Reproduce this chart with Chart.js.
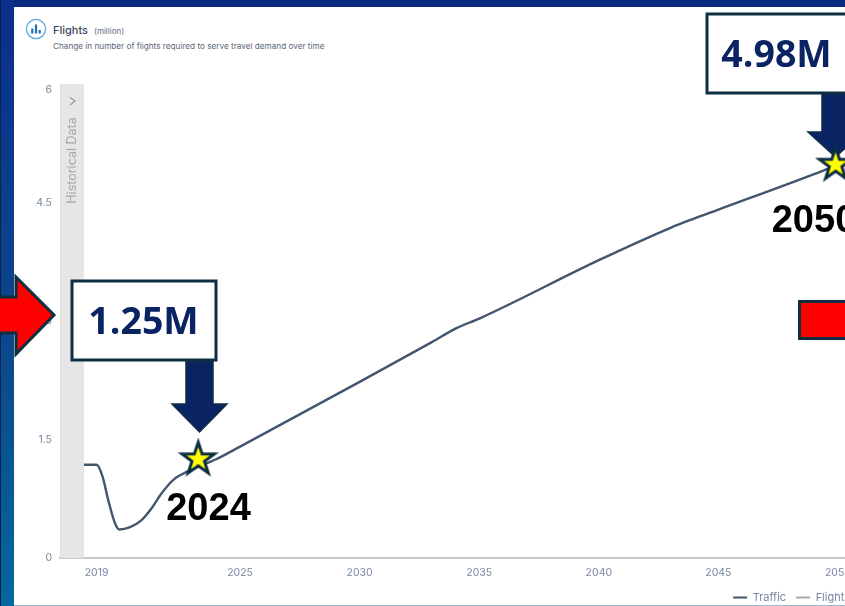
<!DOCTYPE html>
<html>
<head>
<meta charset="utf-8">
<title>Flights</title>
<script src="https://cdn.jsdelivr.net/npm/chart.js@4"></script>
<style>
    html, body { margin: 0; width: 845px; height: 606px; overflow: hidden; background: #fff; }
    .frame-top { position: absolute; left: 0; top: 0; width: 845px; height: 7px; background: #0a2a82; }
    .frame-left { position: absolute; left: 0; top: 0; width: 14px; height: 606px;
        background: linear-gradient(#0b2f8a, #0b4a8c 60%, #03679f); border-left: 1px solid #06234f; box-sizing: border-box; }
    .frame-bottom { position: absolute; left: 14px; top: 605px; width: 831px; height: 1px; background: #9dbbd0; }
    canvas { position: absolute; left: 0; top: 0; }
    .icon { position: absolute; left: 25px; top: 18px; }
    .title { position: absolute; left: 53px; top: 23px; font: 500 11px Inter, sans-serif; color: #3d4a5c; }
    .title small { font-size: 8px; font-weight: 400; color: #5f6d80; margin-left: 3px; }
    .subtitle { position: absolute; left: 53px; top: 41px; font: 400 8.2px Inter, sans-serif; color: #5a6778; white-space: nowrap; }
</style>
</head>
<body>
<div class="frame-top"></div>
<div class="frame-left"></div>
<svg class="icon" width="22" height="22" viewBox="0 0 22 22">
    <circle cx="11" cy="11" r="9.6" fill="#fff" stroke="#5aa9e6" stroke-width="1.3"/>
    <rect x="6.2" y="10.5" width="2.2" height="5" fill="#1f6fb8"/>
    <rect x="9.9" y="6.5" width="2.2" height="9" fill="#1f6fb8"/>
    <rect x="13.6" y="12" width="2.2" height="3.5" fill="#1f6fb8"/>
</svg>
<div class="title">Flights <small>(million)</small></div>
<div class="subtitle">Change in number of flights required to serve travel demand over time</div>
<canvas id="flights" width="860" height="613"></canvas>
<div class="frame-bottom"></div>
<script>
const trafficYears = [2018.47, 2019, 2019.25, 2019.49, 2019.77, 2019.95, 2020.4, 2020.88, 2021.3, 2021.72, 2022.21, 2022.83,
    2023.6, 2024, 2025, 2030, 2033, 2034.05, 2035, 2040, 2043, 2043.93, 2045, 2049, 2050];
const trafficValues = [1.18, 1.18, 1.03, 0.73, 0.44, 0.36, 0.39, 0.48, 0.63, 0.82, 0.99, 1.1,
    1.2, 1.25, 1.41, 2.23, 2.73, 2.91, 3.03, 3.77, 4.18, 4.29, 4.41, 4.86, 4.98];
const flightValues = [];
const starYears = [2023.25, 2049.9];
const starValues = [1.25, 4.98];
const starLabels = ['2024', '2050'];
const yearTicks = [2019, 2025, 2030, 2035, 2040, 2045, 2050];
const historicalEnd = 2018.47;

const NAVY = '#0a2463';
const OUTLINE = '#0e2e42';
const TICK_COLOR = '#7787a0';

// five pointed star used as the point image
function makeStar() {
    const c = document.createElement('canvas');
    c.width = 56;
    c.height = 56;
    const g = c.getContext('2d');
    g.beginPath();
    for (let i = 0; i < 10; i++) {
        const r = i % 2 ? 6.6 : 17;
        const a = -Math.PI / 2 + i * Math.PI / 5;
        g.lineTo(28 + r * Math.cos(a), 28 + r * Math.sin(a));
    }
    g.closePath();
    g.fillStyle = '#ffff00';
    g.fill();
    g.lineWidth = 3;
    g.miterLimit = 10;
    g.strokeStyle = OUTLINE;
    g.stroke();
    return c;
}

function poly(ctx, pts, fill, stroke, width) {
    ctx.beginPath();
    pts.forEach(p => ctx.lineTo(p[0], p[1]));
    ctx.closePath();
    ctx.fillStyle = fill;
    ctx.fill();
    ctx.lineWidth = width;
    ctx.lineJoin = 'miter';
    ctx.strokeStyle = stroke;
    ctx.stroke();
}

function downArrow(ctx, cx, top, base, tip) {
    poly(ctx, [[cx - 13.5, top], [cx + 13.5, top], [cx + 13.5, base], [cx + 27.5, base], [cx, tip], [cx - 27.5, base], [cx - 13.5, base]],
        NAVY, OUTLINE, 1.5);
}

function callout(ctx, x, y, w, h, text, textX) {
    ctx.fillStyle = '#fff';
    ctx.fillRect(x, y, w, h);
    ctx.lineWidth = 3;
    ctx.strokeStyle = OUTLINE;
    ctx.strokeRect(x, y, w, h);
    ctx.font = '700 37.5px "Open Sans", sans-serif';
    ctx.fillStyle = NAVY;
    ctx.textAlign = 'center';
    ctx.textBaseline = 'middle';
    ctx.fillText(text, textX, y + h / 2 + 3);
}

// grey band over the historical years, with its rotated caption
const historicalBand = {
    id: 'historicalBand',
    beforeDatasetsDraw(chart) {
        const { ctx, chartArea, scales } = chart;
        const right = scales.x.getPixelForValue(historicalEnd);
        ctx.save();
        ctx.fillStyle = '#e6e6e6';
        ctx.fillRect(chartArea.left + 1, chartArea.top, right - chartArea.left - 1, chartArea.bottom - chartArea.top);
        ctx.strokeStyle = '#9a9a9a';
        ctx.lineWidth = 1.3;
        ctx.beginPath();
        ctx.moveTo(70, 97.5);
        ctx.lineTo(75, 101);
        ctx.lineTo(70, 105);
        ctx.stroke();
        ctx.translate(72.5, 160.5);
        ctx.rotate(-Math.PI / 2);
        ctx.font = '400 12.5px Inter, sans-serif';
        ctx.fillStyle = '#a6a6a6';
        ctx.textAlign = 'center';
        ctx.textBaseline = 'middle';
        ctx.fillText('Historical Data', 0, 0);
        ctx.restore();
    }
};

// boxes, arrows and year captions laid over the plot
const annotations = {
    id: 'annotations',
    beforeDatasetsDraw(chart) {
        const ctx = chart.ctx;
        ctx.save();
        // red arrow coming in from the left edge
        poly(ctx, [[-4, 297], [16, 297], [16, 277], [54, 315], [16, 354], [16, 333], [-4, 333]], '#ff0000', OUTLINE, 3);
        // red block on the right edge
        ctx.fillStyle = '#ff0000';
        ctx.fillRect(799.5, 301.5, 80, 37);
        ctx.lineWidth = 3;
        ctx.strokeStyle = OUTLINE;
        ctx.strokeRect(799.5, 301.5, 80, 37);

        downArrow(ctx, 199.5, 361, 404, 432);
        downArrow(ctx, 835.5, 94, 132, 157);
        callout(ctx, 72, 281, 144, 79, starValues[0].toFixed(2) + 'M', 143.5);
        callout(ctx, 707, 14, 170, 79, starValues[1].toFixed(2) + 'M', 776.5);

        ctx.font = '700 38px "Liberation Sans", sans-serif';
        ctx.fillStyle = '#000';
        ctx.textAlign = 'center';
        ctx.textBaseline = 'middle';
        ctx.fillText(starLabels[0], 208.5, 510);
        ctx.fillText(starLabels[1], 814, 222);
        ctx.restore();
    }
};

new Chart(document.getElementById('flights'), {
    type: 'line',
    data: {
        datasets: [
            {
                label: 'Stars',
                data: starYears.map((y, i) => ({ x: y, y: starValues[i] })),
                showLine: false,
                pointStyle: makeStar(),
                pointRadius: 28,
                clip: false,
                order: 0
            },
            {
                label: 'Traffic',
                data: trafficYears.map((y, i) => ({ x: y, y: trafficValues[i] })),
                borderColor: '#43566e',
                backgroundColor: '#43566e',
                borderWidth: 2.4,
                pointRadius: 0,
                cubicInterpolationMode: 'monotone',
                order: 1
            },
            {
                label: 'Flights',
                data: flightValues,
                borderColor: '#a8a8a8',
                backgroundColor: '#a8a8a8',
                borderWidth: 2,
                pointRadius: 0,
                order: 2
            }
        ]
    },
    options: {
        responsive: false,
        animation: false,
        layout: { autoPadding: false, padding: { top: 84 } },
        plugins: {
            title: { display: false },
            tooltip: { enabled: false },
            legend: {
                position: 'bottom',
                align: 'end',
                labels: {
                    boxWidth: 14,
                    boxHeight: 2,
                    padding: 10,
                    color: TICK_COLOR,
                    font: { family: 'Inter, sans-serif', size: 11 },
                    filter: item => {
                        item.lineWidth = 0;
                        return item.text !== 'Stars';
                    }
                }
            }
        },
        scales: {
            x: {
                type: 'linear',
                min: 2017.47,
                max: 2050.9,
                afterFit: scale => { scale.height = 24; },
                afterBuildTicks: scale => { scale.ticks = yearTicks.map(v => ({ value: v })); },
                grid: { display: false, drawTicks: false },
                border: { color: '#c9c9c9', width: 2 },
                ticks: {
                    autoSkip: false,
                    maxRotation: 0,
                    padding: 9,
                    color: TICK_COLOR,
                    font: { family: 'Inter, sans-serif', size: 10.5 },
                    callback: v => String(v)
                }
            },
            y: {
                min: 0,
                max: 6,
                afterFit: scale => { scale.width = 60; },
                grid: { display: false, drawTicks: false },
                border: { color: '#dcdcdc', width: 1 },
                ticks: {
                    stepSize: 1.5,
                    padding: 8,
                    color: TICK_COLOR,
                    font: { family: 'Inter, sans-serif', size: 10.5 },
                    // the top label sits just under the end of the axis
                    callback: v => v === 6 ? ['', '6'] : String(v)
                }
            }
        }
    },
    plugins: [historicalBand, annotations]
});
</script>
</body>
</html>
